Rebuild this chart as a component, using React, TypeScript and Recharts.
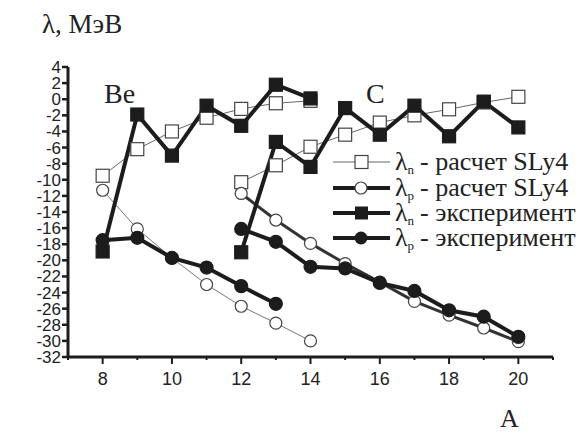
import { LineChart, Line, XAxis, YAxis } from 'recharts'

// mass numbers
const A_BE = [8, 9, 10, 11, 12, 13, 14]
const A_BE_EXP_P = [8, 9, 10, 11, 12, 13]
const A_C = [12, 13, 14, 15, 16, 17, 18, 19, 20]

// Be isotopes
const lnCalcBe = [-9.5, -6.2, -4.0, -2.3, -1.2, -0.5, -0.2]
const lnExpBe = [-18.9, -1.9, -7.0, -0.8, -3.3, 1.8, 0.1]
const lpCalcBe = [-11.3, -16.1, -19.7, -23.0, -25.7, -27.8, -30.0]
const lpExpBe = [-17.5, -17.2, -19.7, -20.9, -23.2, -25.4]

// C isotopes
const lnCalcC = [-10.3, -8.2, -5.9, -4.4, -2.9, -2.0, -1.25, -0.4, 0.3]
const lnExpC = [-19.0, -5.3, -8.4, -1.1, -4.4, -0.8, -4.6, -0.3, -3.5]
const lpCalcC = [-11.7, -15.0, -17.9, -20.4, -22.7, -25.1, -26.8, -28.4, -30.1]
const lpExpC = [-16.1, -17.7, -20.8, -21.0, -22.8, -23.8, -26.2, -27.0, -29.5]

const X_TICKS = [7, 8, 9, 10, 11, 12, 13, 14, 15, 16, 17, 18, 19, 20, 21]
const Y_TICKS = [-32, -30, -28, -26, -24, -22, -20, -18, -16, -14, -12, -10, -8, -6, -4, -2, 0, 2, 4]

const zip = (xs: number[], ys: number[]) => ys.map((v, i) => ({ a: xs[i], v }))

const INK = '#1c1c1c'
const SERIF = '"Liberation Serif", "Times New Roman", serif'
const SANS = '"Liberation Sans", Arial, sans-serif'

const squareDot = (filled: boolean) => (props: any) => {
  const { cx, cy, index } = props
  if (cx == null || cy == null) return <g key={index} />
  return (
    <rect
      key={index}
      x={cx - 6.5}
      y={cy - 6.5}
      width={13}
      height={13}
      fill={filled ? INK : '#fff'}
      stroke={filled ? INK : '#444'}
      strokeWidth={1.2}
    />
  )
}

const circleDot = (filled: boolean) => (props: any) => {
  const { cx, cy, index } = props
  if (cx == null || cy == null) return <g key={index} />
  return (
    <circle
      key={index}
      cx={cx}
      cy={cy}
      r={filled ? 6.5 : 6}
      fill={filled ? INK : '#fff'}
      stroke={filled ? INK : '#444'}
      strokeWidth={1.2}
    />
  )
}

const XTick = (props: any) => {
  const { x, y, payload } = props
  const major = payload.value % 2 === 0
  return (
    <g>
      <line x1={x} x2={x} y1={y} y2={y + (major ? 7 : 3)} stroke={INK} strokeWidth={2} />
      {major && (
        <text x={x} y={y + 28} textAnchor="middle" fontFamily={SANS} fontSize={18} fill="#222">
          {payload.value}
        </text>
      )}
    </g>
  )
}

const YTick = (props: any) => {
  const { x, y, payload } = props
  return (
    <text x={x} y={y + 6} textAnchor="end" fontFamily={SANS} fontSize={17} fill="#222">
      {payload.value}
    </text>
  )
}

const LegendRow = ({ y, kind, sub, label }: { y: number; kind: string; sub: string; label: string }) => {
  const thin = kind === 'sq-open'
  return (
    <g>
      <line x1={333} x2={390} y1={y} y2={y} stroke={thin ? '#666' : INK} strokeWidth={thin ? 1 : 4} />
      {kind === 'sq-open' && <rect x={355} y={y - 6.5} width={13} height={13} fill="#fff" stroke="#444" strokeWidth={1.2} />}
      {kind === 'sq-fill' && <rect x={355} y={y - 6.5} width={13} height={13} fill={INK} />}
      {kind === 'ci-open' && <circle cx={361} cy={y} r={6} fill="#fff" stroke="#444" strokeWidth={1.2} />}
      {kind === 'ci-fill' && <circle cx={361} cy={y} r={6.5} fill={INK} />}
      <text x={395} y={y + 8} fontFamily={SERIF} fontSize={26} fill="#222">
        λ<tspan fontSize={13} dy={4}>{sub}</tspan>
        <tspan dy={-4} dx={6}>{'- ' + label}</tspan>
      </text>
    </g>
  )
}

export default function App() {
  return (
    <div style={{ position: 'absolute', left: 0, top: 0, width: 586, height: 434, background: '#fff' }}>
      <LineChart width={586} height={434} margin={{ top: 67, right: 33, bottom: 47, left: 8 }}>
        <XAxis
          dataKey="a"
          type="number"
          domain={[7, 21]}
          ticks={X_TICKS}
          interval={0}
          height={30}
          allowDuplicatedCategory={false}
          axisLine={{ stroke: INK, strokeWidth: 3 }}
          tickLine={false}
          tickSize={0}
          tickMargin={0}
          tick={<XTick />}
        />
        <YAxis
          type="number"
          domain={[-32, 4]}
          ticks={Y_TICKS}
          interval={0}
          width={60}
          axisLine={{ stroke: INK, strokeWidth: 3 }}
          tickLine={{ stroke: INK, strokeWidth: 2.5 }}
          tickSize={6}
          tickMargin={1}
          tick={<YTick />}
        />
        <Line data={zip(A_BE, lnCalcBe)} dataKey="v" stroke="#666" strokeWidth={1} dot={squareDot(false)} isAnimationActive={false} />
        <Line data={zip(A_BE, lpCalcBe)} dataKey="v" stroke="#777" strokeWidth={1} dot={circleDot(false)} isAnimationActive={false} />
        <Line data={zip(A_C, lnCalcC)} dataKey="v" stroke="#666" strokeWidth={1} dot={squareDot(false)} isAnimationActive={false} />
        <Line data={zip(A_C, lpCalcC)} dataKey="v" stroke="#333" strokeWidth={3} dot={circleDot(false)} isAnimationActive={false} />
        <Line data={zip(A_BE_EXP_P, lpExpBe)} dataKey="v" stroke={INK} strokeWidth={4} dot={circleDot(true)} isAnimationActive={false} />
        <Line data={zip(A_C, lpExpC)} dataKey="v" stroke={INK} strokeWidth={4} dot={circleDot(true)} isAnimationActive={false} />
        <Line data={zip(A_BE, lnExpBe)} dataKey="v" stroke={INK} strokeWidth={4} dot={squareDot(true)} isAnimationActive={false} />
        <Line data={zip(A_C, lnExpC)} dataKey="v" stroke={INK} strokeWidth={4} dot={squareDot(true)} isAnimationActive={false} />
      </LineChart>
      <svg width={586} height={434} style={{ position: 'absolute', left: 0, top: 0, pointerEvents: 'none' }}>
        <text x={42} y={33} fontFamily={SERIF} fontSize={27} fill="#222">λ, МэВ</text>
        <text x={104} y={103} fontFamily={SERIF} fontSize={28} fill="#222">Be</text>
        <text x={366} y={103} fontFamily={SERIF} fontSize={28} fill="#222">C</text>
        <text x={500} y={427} fontFamily={SERIF} fontSize={26} fill="#222">A</text>
        <LegendRow y={162} kind="sq-open" sub="n" label="расчет SLy4" />
        <LegendRow y={188} kind="ci-open" sub="p" label="расчет SLy4" />
        <LegendRow y={213} kind="sq-fill" sub="n" label="эксперимент" />
        <LegendRow y={238} kind="ci-fill" sub="p" label="эксперимент" />
      </svg>
    </div>
  )
}
